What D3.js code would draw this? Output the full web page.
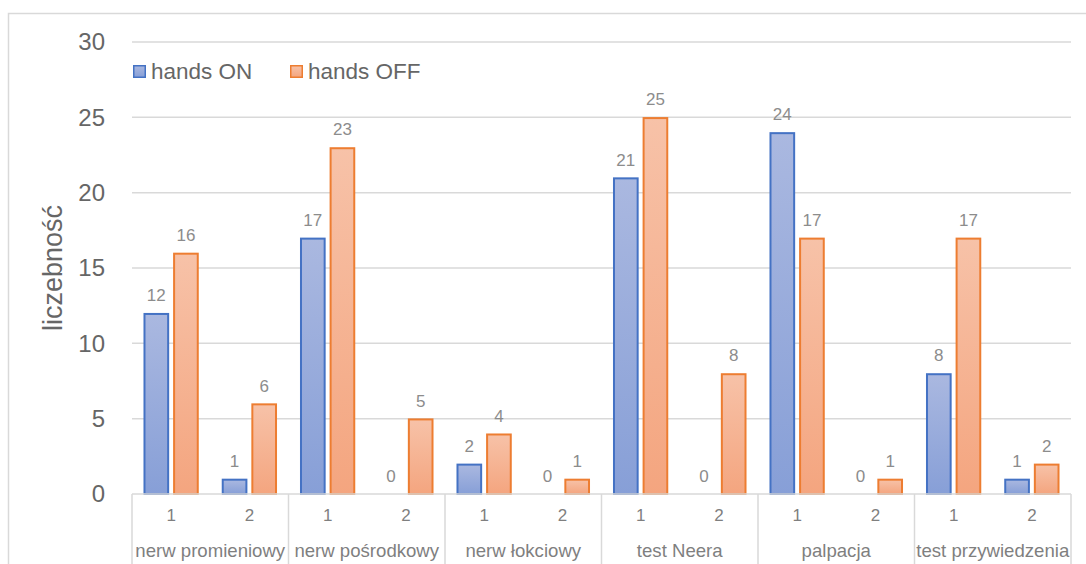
<!DOCTYPE html>
<html>
<head>
<meta charset="utf-8">
<script src="https://cdn.jsdelivr.net/npm/d3@7"></script>
<style>
  html, body { margin: 0; padding: 0; background: #fff; }
  svg { display: block; font-family: "Liberation Sans", Arial, sans-serif; }
</style>
</head>
<body>
<svg id="chart" width="1086" height="564"></svg>
<script>
// Tests and their two sub-categories
const groups = ["nerw promieniowy", "nerw pośrodkowy", "nerw łokciowy", "test Neera", "palpacja", "test przywiedzenia"];
const subLabels = ["1", "2"];
const seriesNames = ["hands ON", "hands OFF"];
// Values per (group, sub-category), in order 1, 2 for each group
const handsOn  = [12, 1, 17, 0, 2, 0, 21, 0, 24, 0, 8, 1];
const handsOff = [16, 6, 23, 5, 4, 1, 25, 8, 17, 1, 17, 2];
const yTicks = [0, 5, 10, 15, 20, 25, 30];

const svg = d3.select("#chart");
const W = 1086, H = 564;
const plot = { left: 132, right: 1071, top: 42, bottom: 494 };

// Chart area frame
svg.append("rect")
  .attr("x", 8.5).attr("y", 13.5)
  .attr("width", W + 20).attr("height", H + 20)
  .attr("fill", "#fff").attr("stroke", "#d9d9d9").attr("stroke-width", 1.5);

// Gradients for bar fills
const defs = svg.append("defs");
const gradSpecs = [
  { id: "gOn",  top: "#aab8e0", bottom: "#879fd7" },
  { id: "gOff", top: "#f7c2a8", bottom: "#f4a57f" }
];
gradSpecs.forEach(g => {
  const lg = defs.append("linearGradient").attr("id", g.id)
    .attr("x1", 0).attr("y1", 0).attr("x2", 0).attr("y2", 1);
  lg.append("stop").attr("offset", "0%").attr("stop-color", g.top);
  lg.append("stop").attr("offset", "100%").attr("stop-color", g.bottom);
});
const fills = ["url(#gOn)", "url(#gOff)"];
const strokes = ["#4472c4", "#ed7d31"];

// Scales
const slots = [];
groups.forEach((g, gi) => subLabels.forEach((s, si) => slots.push({ key: gi + "-" + si, group: g, sub: s })));
const data = slots.map((s, i) => ({ ...s, values: [handsOn[i], handsOff[i]] }));

const x0 = d3.scaleBand().domain(slots.map(s => s.key))
  .range([plot.left, plot.right]).paddingInner(0.3).paddingOuter(0.15);
const x1 = d3.scaleBand().domain([0, 1]).range([0, x0.bandwidth()]).paddingInner(0.15);
const xg = d3.scaleBand().domain(groups).range([plot.left, plot.right]);
const y = d3.scaleLinear().domain([0, 30]).range([plot.bottom, plot.top]);

// Horizontal gridlines
svg.append("g").selectAll("line").data(yTicks.filter(t => t > 0)).join("line")
  .attr("x1", plot.left).attr("x2", plot.right)
  .attr("y1", d => y(d)).attr("y2", d => y(d))
  .attr("stroke", "#d9d9d9").attr("stroke-width", 1.5);

// Y tick labels
svg.append("g").selectAll("text").data(yTicks).join("text")
  .attr("x", 105).attr("y", d => y(d))
  .attr("dy", "0.35em").attr("text-anchor", "end")
  .attr("font-size", 24).attr("fill", "#666666")
  .text(d => d);

// Y axis title
svg.append("text")
  .attr("transform", `translate(${62},${268}) rotate(-90)`)
  .attr("text-anchor", "middle")
  .attr("font-size", 27).attr("fill", "#666666")
  .text("liczebność");

// Bars
const slotG = svg.append("g").selectAll("g").data(data).join("g")
  .attr("transform", d => `translate(${x0(d.key)},0)`);

slotG.selectAll("rect").data(d => d.values.map((v, i) => ({ v, i })).filter(e => e.v > 0)).join("rect")
  .attr("x", e => x1(e.i) + 0.75)
  .attr("width", x1.bandwidth() - 1.5)
  .attr("y", e => y(e.v) + 0.75)
  .attr("height", e => y(0) - y(e.v) - 0.75)
  .attr("fill", e => fills[e.i])
  .attr("stroke", e => strokes[e.i])
  .attr("stroke-width", 2);

// Data labels
slotG.selectAll("text").data(d => d.values.map((v, i) => ({ v, i }))).join("text")
  .attr("x", e => x1(e.i) + x1.bandwidth() / 2)
  .attr("y", e => y(e.v) - 12)
  .attr("text-anchor", "middle")
  .attr("font-size", 17).attr("fill", "#8c8c8c")
  .text(e => e.v);

// Category axis: baseline, group separators, labels
svg.append("line")
  .attr("x1", plot.left).attr("x2", plot.right)
  .attr("y1", plot.bottom).attr("y2", plot.bottom)
  .attr("stroke", "#d9d9d9").attr("stroke-width", 1.5);

const seps = groups.map(g => xg(g)).concat([plot.right]);
svg.append("g").selectAll("line").data(seps).join("line")
  .attr("x1", d => d).attr("x2", d => d)
  .attr("y1", plot.bottom).attr("y2", H + 5)
  .attr("stroke", "#d9d9d9").attr("stroke-width", 1.5);

svg.append("g").selectAll("text").data(slots).join("text")
  .attr("x", d => x0(d.key) + x0.bandwidth() / 2)
  .attr("y", 521)
  .attr("text-anchor", "middle")
  .attr("font-size", 17).attr("fill", "#7f7f7f")
  .text(d => d.sub);

svg.append("g").selectAll("text").data(groups).join("text")
  .attr("x", d => xg(d) + xg.bandwidth() / 2)
  .attr("y", 557)
  .attr("text-anchor", "middle")
  .attr("font-size", 18.6).attr("fill", "#7f7f7f")
  .text(d => d);

// Legend
const legend = svg.append("g");
const legendX = [133, 290];
seriesNames.forEach((name, i) => {
  legend.append("rect")
    .attr("x", legendX[i] + 0.75).attr("y", 65.75)
    .attr("width", 11.5).attr("height", 11.5)
    .attr("fill", fills[i]).attr("stroke", strokes[i]).attr("stroke-width", 1.5);
  legend.append("text")
    .attr("x", legendX[i] + 18).attr("y", 71.5)
    .attr("dy", "0.35em")
    .attr("font-size", 22.5).attr("fill", "#666666")
    .text(name);
});
</script>
</body>
</html>
